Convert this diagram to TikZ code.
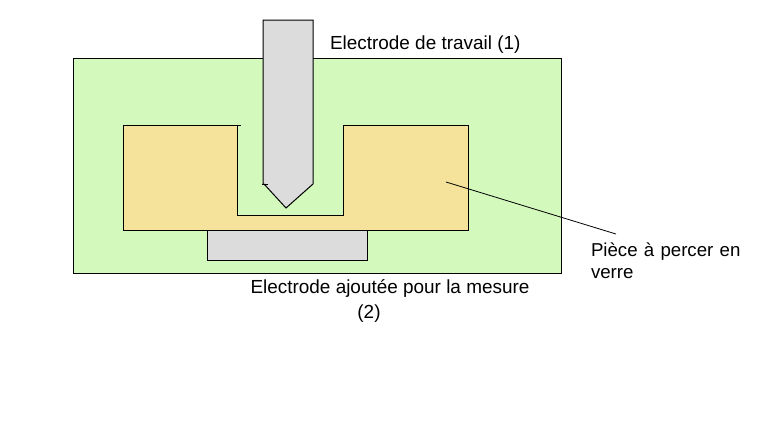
\documentclass[tikz,border=0pt]{standalone}
\usepackage{fontspec}
\setmainfont{Liberation Sans}
\usetikzlibrary{positioning, calc}

\definecolor{blockgreen}{HTML}{D3F9BC}
\definecolor{glasstan}{HTML}{F5E39B}
\definecolor{electrodegray}{HTML}{DCDCDC}

\begin{document}
\begin{tikzpicture}[
    x=0.75pt, y=-0.75pt,
    every node/.style={inner sep=0pt, outer sep=0pt},
    part/.style={draw=black, line width=0.75pt, line join=miter},
    label/.style={font=\fontsize{14.2}{17}\selectfont, align=left, text=black},
    leader/.style={draw=black, line width=0.6pt}
]
\useasboundingbox (0,0) rectangle (767,430);

% Background block
\filldraw[part, fill=blockgreen] (73,58) rectangle (561,273);

% Glass piece
\draw[part, fill=glasstan] (123,125) -- (237.5,125) -- (237.5,215) -- (343,215) -- (343,125) -- (468,125) -- (468,230) -- (123,230) -- cycle;
\draw[part] (237.5,125) -- (241,125);

% Electrodes
\draw[part, fill=electrodegray] (207,230) rectangle (367,260);
\draw[part, fill=electrodegray] (263,20) -- (313,20) -- (313,184) -- (286,208) -- (264,184) -- (263,184) -- cycle;
\draw[part, line width=0.6pt] (262,184) -- (268,184);

% Labels
\node[label, anchor=west] (travail) at (330,45) {Electrode de travail (1)};
\node[label, anchor=center] (ajoutee) at (390,288) {Electrode ajoutée pour la mesure};
\node[label, anchor=center] (deux) at (369,314) {(2)};
\node[label, font=\fontsize{14}{16.5}\selectfont, anchor=north west, text width=170pt] (piece) at (591,243) {Pièce à percer en\\verre};

% Leader
\coordinate (tip) at (446,182);
\coordinate (end) at (616,234);
\draw[leader] (tip) -- (end);
\end{tikzpicture}
\end{document}
